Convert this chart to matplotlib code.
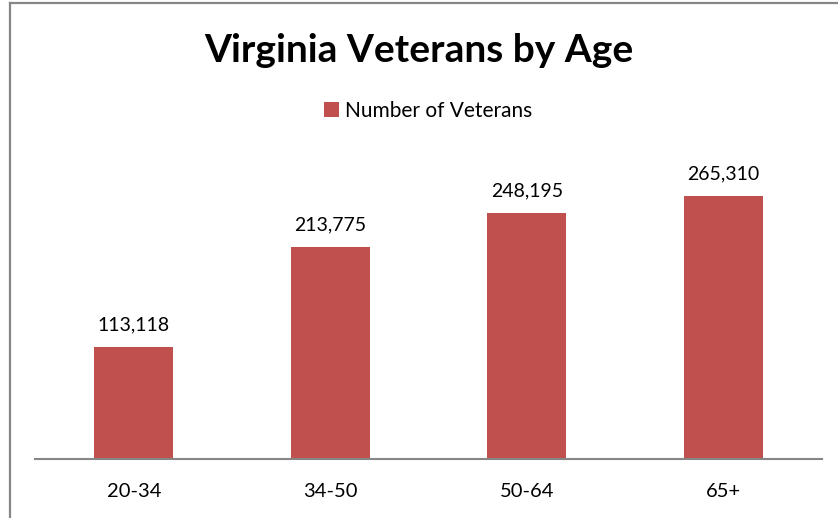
import matplotlib.pyplot as plt
from matplotlib.lines import Line2D

# ─── Data ────────────────────────────────────────────────────────────────
age_groups = ['20-34', '34-50', '50-64', '65+']
veterans = [113118, 213775, 248195, 265310]

BAR_COLOR = '#C0504D'
AXIS_COLOR = '#868686'
FONT = 'Lato'

fig = plt.figure(figsize=(8.38, 5.18), dpi=100, facecolor='white')

# chart border: only the top and left edges show in the cropped screenshot
fig.add_artist(Line2D([9.5 / 838, 1], [1 - 2.5 / 518] * 2, transform=fig.transFigure,
                      color=AXIS_COLOR, linewidth=1.6))
fig.add_artist(Line2D([9.5 / 838] * 2, [0, 1 - 2.5 / 518], transform=fig.transFigure,
                      color=AXIS_COLOR, linewidth=1.6))

ax = fig.add_axes([35.5 / 838, 59 / 518, 786 / 838, 309 / 518])
x = range(len(age_groups))
bars = ax.bar(x, veterans, width=0.4, color=BAR_COLOR, label='Number of Veterans')

ax.set_xlim(-0.5, len(age_groups) - 0.5)
ax.set_ylim(0, 265310 * 309 / 263)

for bar, val in zip(bars, veterans):
    ax.annotate(f'{val:,}', (bar.get_x() + bar.get_width() / 2, bar.get_height()),
                xytext=(0, 10), textcoords='offset points', ha='center', va='bottom',
                fontsize=14, family=FONT, color='black')

ax.set_xticks(list(x))
ax.set_xticklabels(age_groups, fontsize=14.5, family=FONT)
ax.tick_params(axis='x', length=0, pad=17)
ax.set_yticks([])
for side in ['top', 'right', 'left']:
    ax.spines[side].set_visible(False)
ax.spines['bottom'].set_color(AXIS_COLOR)
ax.spines['bottom'].set_linewidth(1.5)

fig.text(0.5, 1 - 50 / 518, 'Virginia Veterans by Age', ha='center', va='center',
         fontsize=28, fontweight='bold', family=FONT)

ax.legend(loc='center', bbox_to_anchor=(0.5, (518 - 111 - 59) / 309),
          frameon=False, prop={'family': FONT, 'size': 15},
          handlelength=0.7, handleheight=0.7, handletextpad=0.3)

plt.savefig('out.png', dpi=100, facecolor='white')
